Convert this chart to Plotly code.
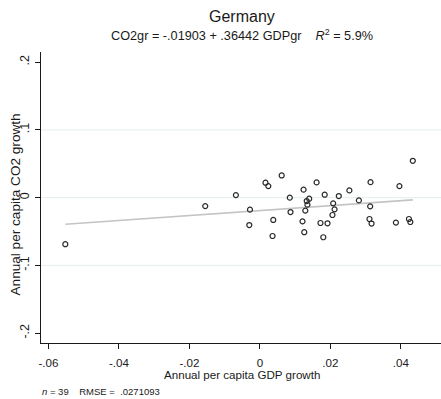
import plotly.graph_objects as go

# Annual per capita GDP growth vs CO2 growth, Germany
gdp_growth = [
    -0.0155, -0.0068, -0.0028, -0.0030, 0.0016, 0.0024, 0.0038, 0.0036,
    0.0062, 0.0085, 0.0087, 0.0124, 0.0133, 0.0140, 0.0135, 0.0129,
    0.0121, 0.0126, 0.0161, 0.0184, 0.0172, 0.0192, 0.0180, 0.0208,
    0.0212, 0.0206, 0.0224, 0.0254, 0.0281, 0.0314, 0.0313, 0.0311,
    0.0317, 0.0386, 0.0396, 0.0423, 0.0427, 0.0434, -0.0552,
]
co2_growth = [
    -0.0124, 0.0038, -0.0177, -0.0404, 0.0221, 0.0171, -0.0329, -0.0566,
    0.0328, 0.0000, -0.0212, 0.0118, -0.0050, -0.0015, -0.0103, -0.0191,
    -0.0349, -0.0510, 0.0225, 0.0044, -0.0374, -0.0378, -0.0584, -0.0084,
    -0.0172, -0.0256, 0.0024, 0.0107, -0.0040, 0.0229, -0.0128, -0.0315,
    -0.0382, -0.0368, 0.0171, -0.0315, -0.0359, 0.0544, -0.0687,
]

# OLS fit reported in the subtitle
intercept = -0.01903
slope = 0.36442
r_squared_pct = 5.9
n_obs = 39
rmse = ".0271093"

x_ticks = [-0.06, -0.04, -0.02, 0, 0.02, 0.04]
x_tick_text = ["-.06", "-.04", "-.02", "0", ".02", ".04"]
y_ticks = [-0.2, -0.1, 0, 0.1, 0.2]
y_tick_text = ["-.2", "-.1", "0", ".1", ".2"]
grid_values = [-0.1, 0, 0.1]

font_family = "Liberation Sans, Arial, sans-serif"
ink = "#1a1a1a"

x_lo, x_hi = min(gdp_growth), max(gdp_growth)
fit_x = [x_lo, x_hi]
fit_y = [intercept + slope * v for v in fit_x]

fig = go.Figure()

fig.add_trace(go.Scatter(
    x=fit_x, y=fit_y, mode="lines",
    line=dict(color="#c4c4c4", width=1.6),
    hoverinfo="skip", showlegend=False,
))
fig.add_trace(go.Scatter(
    x=gdp_growth, y=co2_growth, mode="markers",
    marker=dict(symbol="circle-open", size=5, color="#2a2a2a",
                line=dict(width=1.2, color="#2a2a2a")),
    showlegend=False,
))

for g in grid_values:
    fig.add_shape(type="line", xref="paper", yref="y", x0=0, x1=1, y0=g, y1=g,
                  line=dict(color="#e4eef0", width=1), layer="below")

fig.update_xaxes(
    range=[-0.0621, 0.0514], tickvals=x_ticks, ticktext=x_tick_text,
    showgrid=False, zeroline=False, showline=True, linecolor=ink,
    linewidth=1, ticks="outside", ticklen=5, tickcolor=ink,
    ticklabelstandoff=4,
    tickfont=dict(size=11.6, color=ink),
)
fig.update_yaxes(
    range=[-0.2145, 0.215], tickvals=y_ticks, ticktext=y_tick_text,
    tickangle=-90, showgrid=False, zeroline=False, showline=True,
    linecolor=ink, linewidth=1, ticks="outside", ticklen=5,
    tickcolor=ink, ticklabelstandoff=1,
    tickfont=dict(size=12.5, color=ink),
)

plot_h = 399 - 52 - 56
plot_w = 400


def py(pix):
    return (399 - 56 - pix) / plot_h


def px(pix):
    return (pix - 41) / plot_w


annotations = [
    dict(text="Germany", x=px(241.5), y=py(17), font=dict(size=16)),
    dict(text=("CO2gr = -.01903 + .36442 GDPgr &nbsp;&nbsp; "
               "<i>R</i><sup>2</sup> = %.1f%%" % r_squared_pct),
         x=px(241.5), y=py(34.5), font=dict(size=12.7)),
    dict(text="Annual per capita GDP growth", x=px(241.5), y=py(374.5),
         font=dict(size=11.6)),
    dict(text="Annual per capita CO2 growth", x=px(14.5), y=py(205),
         textangle=-90, font=dict(size=13.6)),
    dict(text="<i>n</i> = %d &nbsp;&nbsp; RMSE = &nbsp;%s" % (n_obs, rmse),
         x=px(39.5), y=py(391.5), xanchor="left", font=dict(size=9.5)),
]
for a in annotations:
    a.setdefault("xanchor", "center")
    a.update(xref="paper", yref="paper", yanchor="middle", showarrow=False)
    a["font"] = dict(family=font_family, color=ink, **a["font"])

fig.update_layout(
    width=441, height=399,
    margin=dict(l=41, r=0, t=52, b=56),
    paper_bgcolor="white", plot_bgcolor="white",
    font=dict(family=font_family, color=ink),
    annotations=annotations,
)

fig.write_html("out.html")
